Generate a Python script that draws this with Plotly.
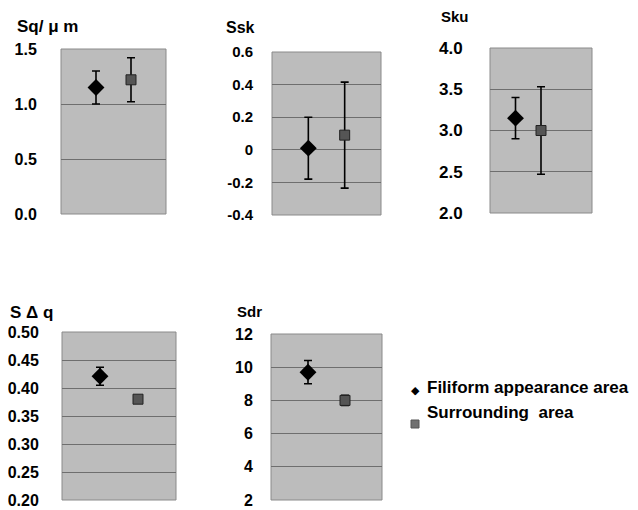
import plotly.graph_objects as go

# page body adds an 8px margin, so the figure is drawn 8px smaller and
# reference pixel positions are shifted by that margin
OFF = 8
W, H = 638 - OFF, 510 - OFF

# ---- data ----
params = ["Sq/ μ m", "Ssk", "Sku", "S Δ q", "Sdr"]
filiform_mean = [1.15, 0.01, 3.15, 0.421, 9.7]
filiform_err = [0.15, 0.19, 0.25, 0.016, 0.7]
surround_mean = [1.22, 0.09, 3.00, 0.380, 8.0]
surround_err = [0.20, 0.325, 0.53, 0.005, 0.3]
tick_vals = [
    [0.0, 0.5, 1.0, 1.5],
    [-0.4, -0.2, 0.0, 0.2, 0.4, 0.6],
    [2.0, 2.5, 3.0, 3.5, 4.0],
    [0.20, 0.25, 0.30, 0.35, 0.40, 0.45, 0.50],
    [2, 4, 6, 8, 10, 12],
]
tick_text = [
    ["0.0", "0.5", "1.0", "1.5"],
    ["-0.4", "-0.2", "0", "0.2", "0.4", "0.6"],
    ["2.0", "2.5", "3.0", "3.5", "4.0"],
    ["0.20", "0.25", "0.30", "0.35", "0.40", "0.45", "0.50"],
    ["2", "4", "6", "8", "10", "12"],
]
series_names = ["Filiform appearance area", "Surrounding  area"]


def px(x):
    return (x - OFF) / W


def py(y):
    return 1 - (y - OFF) / H


# ---- layout geometry (reference pixels) ----
boxes = [  # x0, x1, y0(top), y1(bottom)
    (61, 166, 49, 214),
    (272, 381, 52, 215),
    (490, 592, 48, 213),
    (62, 176, 332, 500),
    (271, 382, 334, 500),
]
xmax = [3, 3, 4, 3, 3]
tick_gap = [20, 15, 23, 19, 14]
tick_size = [16, 15, 17, 16, 16]
title_pos = [(15, 27), (224, 28), (439, 17), (8, 312), (235, 311)]
title_size = [17, 16, 15, 17, 15]

FONT = "Liberation Sans, Arial, sans-serif"
fig = go.Figure()
layout = dict(
    width=W, height=H, margin=dict(l=0, r=0, t=0, b=0, autoexpand=False),
    paper_bgcolor="white", plot_bgcolor="white", showlegend=False,
    font=dict(family=FONT, color="black"),
    shapes=[], annotations=[],
)

for i in range(5):
    x0, x1, y0, y1 = boxes[i]
    xa = "xaxis" if i == 0 else f"xaxis{i+1}"
    ya = "yaxis" if i == 0 else f"yaxis{i+1}"
    xr = "x" if i == 0 else f"x{i+1}"
    yr = "y" if i == 0 else f"y{i+1}"
    layout[xa] = dict(domain=[px(x0), px(x1)], range=[0, xmax[i]], visible=False,
                      anchor=yr, fixedrange=True)
    layout[ya] = dict(domain=[py(y1), py(y0)],
                      range=[tick_vals[i][0], tick_vals[i][-1]],
                      tickvals=tick_vals[i], ticktext=tick_text[i],
                      tickfont=dict(size=tick_size[i], family=FONT, color="black",
                                    weight="bold"),
                      ticks="outside", ticklen=tick_gap[i], tickcolor="rgba(0,0,0,0)",
                      showgrid=True, gridcolor="#6e6e6e", gridwidth=1,
                      zeroline=False, showline=False, anchor=xr, fixedrange=True)
    layout["shapes"].append(dict(type="rect", xref="paper", yref="paper",
                                 x0=px(x0), x1=px(x1), y0=py(y1), y1=py(y0),
                                 fillcolor="#bcbcbc", line=dict(color="#8a8a8a", width=1),
                                 layer="below"))
    tx, ty = title_pos[i]
    layout["annotations"].append(dict(text=params[i], x=px(tx), y=py(ty),
                                      xref="paper", yref="paper", xanchor="left",
                                      yanchor="middle", showarrow=False,
                                      font=dict(size=title_size[i], family=FONT,
                                                weight="bold")))
    fig.add_trace(go.Scatter(
        x=[1], y=[filiform_mean[i]], xaxis=xr, yaxis=yr, mode="markers",
        name=series_names[0],
        marker=dict(symbol="diamond", size=13, color="black"),
        error_y=dict(type="data", array=[filiform_err[i]], color="black",
                     thickness=1.6, width=4)))
    fig.add_trace(go.Scatter(
        x=[2], y=[surround_mean[i]], xaxis=xr, yaxis=yr, mode="markers",
        name=series_names[1],
        marker=dict(symbol="square", size=10, color="#555555",
                    line=dict(color="#222222", width=1)),
        error_y=dict(type="data", array=[surround_err[i]], color="black",
                     thickness=1.6, width=4)))

# legend
layout["annotations"].append(dict(text="◆", x=px(415), y=py(399), xref="paper",
                                  yref="paper", showarrow=False,
                                  font=dict(size=11, family="DejaVu Sans")))
layout["annotations"].append(dict(text=series_names[0], x=px(425), y=py(399),
                                  xref="paper", yref="paper", xanchor="left",
                                  showarrow=False,
                                  font=dict(size=17, family=FONT, weight="bold")))
layout["shapes"].append(dict(type="rect", xref="paper", yref="paper",
                             x0=px(411), x1=px(419), y0=py(428), y1=py(420),
                             fillcolor="#707070", line=dict(color="#555555", width=1)))
layout["annotations"].append(dict(text=series_names[1], x=px(425), y=py(424),
                                  xref="paper", yref="paper", xanchor="left",
                                  showarrow=False,
                                  font=dict(size=17, family=FONT, weight="bold")))

fig.update_layout(**layout)
fig.write_html("out.html")
